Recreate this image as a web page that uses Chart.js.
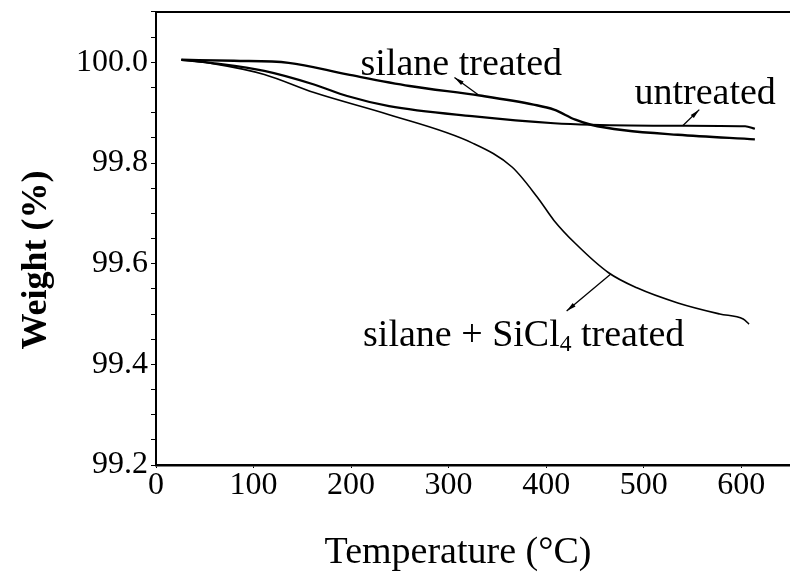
<!DOCTYPE html>
<html>
<head>
<meta charset="utf-8">
<script src="https://cdn.jsdelivr.net/npm/chart.js@4"></script>
<style>
  body { margin: 0; background: #fff; }
  #wrap { width: 790px; height: 574px; }
</style>
</head>
<body>
<div id="wrap"><canvas id="tga" width="790" height="574"></canvas></div>
<script>
// temperature (°C) and weight (%)
const silaneTemp = [26, 80, 136, 196, 260, 332, 387, 408, 430, 446, 480, 535, 614];
const silaneWeight = [100.005, 100.003, 99.999, 99.976, 99.953, 99.934, 99.916, 99.906, 99.886, 99.876, 99.865, 99.856, 99.847];

const untreatedTemp = [26, 60, 111, 162, 196, 239, 324, 408, 446, 535, 604, 614];
const untreatedWeight = [100.005, 99.998, 99.983, 99.956, 99.933, 99.913, 99.893, 99.879, 99.876, 99.874, 99.873, 99.868];

const sicl4Temp = [26, 60, 111, 162, 239, 324, 365, 391, 408, 430, 464, 493, 535, 578, 602, 608];
const sicl4Weight = [100.005, 99.997, 99.976, 99.94, 99.896, 99.84, 99.792, 99.732, 99.686, 99.64, 99.582, 99.552, 99.522, 99.5, 99.49, 99.48];

const xTicks = [0, 100, 200, 300, 400, 500, 600];
const yLabels = [99.2, 99.4, 99.6, 99.8, 100.0];

// labels with their arrows, in data units
const notes = [
  { text: 'silane treated', x: 313, y: 99.974, from: [330, 99.936], to: [306, 99.970] },
  { text: 'untreated', x: 563, y: 99.918, from: [540, 99.874], to: [557, 99.906] },
  { text: 'silane + SiCl|4| treated', x: 377, y: 99.436, from: [466, 99.579], to: [421, 99.506] }
];

const serif = '"Liberation Serif", "Times New Roman", serif';

function pts(xs, ys) {
  return xs.map((x, i) => ({ x: x, y: ys[i] }));
}

function drawRich(ctx, str, cx, base, size) {
  // parts between | | are subscripts
  const parts = str.split('|');
  const fonts = parts.map((p, i) => (i % 2 ? (size * 0.62) : size) + 'px ' + serif);
  let total = 0;
  parts.forEach((p, i) => { ctx.font = fonts[i]; total += ctx.measureText(p).width; });
  let x = cx - total / 2;
  parts.forEach((p, i) => {
    ctx.font = fonts[i];
    ctx.fillText(p, x, i % 2 ? base + size * 0.12 : base);
    x += ctx.measureText(p).width;
  });
}

const decorations = {
  id: 'decorations',
  afterDraw(chart) {
    const ctx = chart.ctx;
    const xs = chart.scales.x, ys = chart.scales.y;
    const area = chart.chartArea;
    ctx.save();
    // top frame line
    ctx.strokeStyle = '#000';
    ctx.lineWidth = 2;
    ctx.beginPath();
    ctx.moveTo(area.left, area.top);
    ctx.lineTo(area.right, area.top);
    ctx.stroke();

    ctx.fillStyle = '#000';
    ctx.textAlign = 'left';
    ctx.textBaseline = 'alphabetic';
    notes.forEach(n => {
      drawRich(ctx, n.text, xs.getPixelForValue(n.x), ys.getPixelForValue(n.y), 38);
      const x1 = xs.getPixelForValue(n.from[0]), y1 = ys.getPixelForValue(n.from[1]);
      const x2 = xs.getPixelForValue(n.to[0]), y2 = ys.getPixelForValue(n.to[1]);
      ctx.lineWidth = 1.3;
      ctx.beginPath();
      ctx.moveTo(x1, y1);
      ctx.lineTo(x2, y2);
      ctx.stroke();
      const a = Math.atan2(y2 - y1, x2 - x1);
      ctx.beginPath();
      ctx.moveTo(x2, y2);
      ctx.lineTo(x2 - 10 * Math.cos(a - 0.22), y2 - 10 * Math.sin(a - 0.22));
      ctx.lineTo(x2 - 10 * Math.cos(a + 0.22), y2 - 10 * Math.sin(a + 0.22));
      ctx.closePath();
      ctx.fill();
    });

    // axis titles
    ctx.textAlign = 'center';
    ctx.font = '38px ' + serif;
    ctx.fillText('Temperature (\u00B0C)', 458, 563);
    ctx.save();
    ctx.translate(46, 260);
    ctx.rotate(-Math.PI / 2);
    ctx.font = 'bold 36px ' + serif;
    ctx.fillText('Weight (%)', 0, 0);
    ctx.restore();
    ctx.restore();
  }
};

const line = { showLine: true, borderColor: '#000', pointRadius: 0, fill: false, cubicInterpolationMode: 'monotone' };

new Chart(document.getElementById('tga').getContext('2d'), {
  type: 'scatter',
  data: {
    datasets: [
      Object.assign({ label: 'silane treated', data: pts(silaneTemp, silaneWeight), borderWidth: 2.4 }, line),
      Object.assign({ label: 'untreated', data: pts(untreatedTemp, untreatedWeight), borderWidth: 2.2 }, line),
      Object.assign({ label: 'silane + SiCl4 treated', data: pts(sicl4Temp, sicl4Weight), borderWidth: 1.6 }, line)
    ]
  },
  options: {
    responsive: false,
    animation: false,
    layout: { padding: { top: 12, right: 0, left: 0, bottom: 0 } },
    plugins: { legend: { display: false }, tooltip: { enabled: false } },
    scales: {
      x: {
        type: 'linear',
        min: 0,
        max: 650,
        afterBuildTicks: s => { s.ticks = xTicks.map(v => ({ value: v })); },
        afterFit: s => { s.height = 109; s.paddingRight = 0; },
        border: { color: '#000', width: 2.5 },
        grid: { drawOnChartArea: false, color: '#000', tickLength: 3 },
        ticks: { color: '#000', font: { family: serif, size: 32 }, padding: -2, maxRotation: 0 }
      },
      y: {
        min: 99.2,
        max: 100.1,
        afterBuildTicks: s => {
          const t = [];
          for (let k = 0; k <= 18; k++) t.push({ value: 99.2 + k * 0.05 });
          s.ticks = t;
        },
        afterFit: s => { s.width = 156; s.paddingTop = 0; s.paddingBottom = 0; },
        border: { color: '#000', width: 2 },
        grid: { drawOnChartArea: false, color: '#000', tickLength: 5 },
        ticks: {
          color: '#000',
          font: { family: serif, size: 32 },
          padding: 3,
          autoSkip: false,
          callback: v => {
            const hit = yLabels.find(l => Math.abs(l - v) < 1e-6);
            return hit === undefined ? '' : hit.toFixed(1);
          }
        }
      }
    }
  },
  plugins: [decorations]
});
</script>
</body>
</html>
